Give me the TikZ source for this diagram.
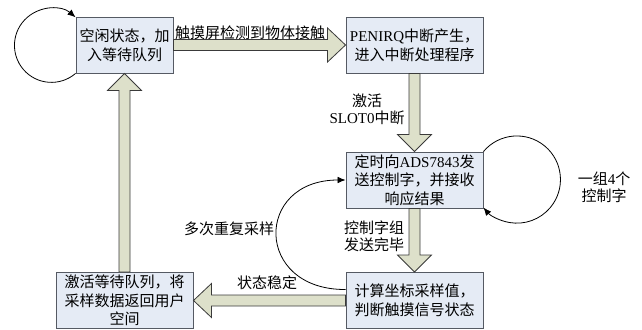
\documentclass[tikz,border=0pt]{standalone}
\usepackage{fontspec}
\setmainfont{Noto Sans CJK SC}
\newfontfamily\lat{Liberation Serif}
\usetikzlibrary{calc,arrows.meta}
\definecolor{boxfill}{HTML}{E5EBF5}
\definecolor{boxline}{HTML}{555A63}
\definecolor{arrfill}{HTML}{DDE0CA}
\definecolor{arrline}{HTML}{3A3A3A}
\tikzset{
  box/.style={draw=boxline, line width=0.7pt, fill=boxfill, align=center, inner sep=0pt,
    minimum height=42pt, font=\fontsize{11.25}{14}\selectfont},
  blockarr/.style={draw=arrline, line width=0.6pt, fill=arrfill, line join=miter},
  lab/.style={align=center, inner sep=0pt, font=\fontsize{11.25}{13}\selectfont},
  loop/.style={line width=0.6pt, -{Latex[length=6pt,width=5pt]}},
}
\begin{document}
\begin{tikzpicture}[x=0.75pt,y=0.75pt]
\useasboundingbox (0,0) rectangle (642,329);
% boxes
\node[box, minimum width=72.75pt] (b1) at (124.5,284) {空闲状态，加\\入等待队列};
\node[box, minimum width=102.75pt] (b2) at (414.5,284) {{\lat PENIRQ}中断产生，\\进入中断处理程序};
\node[box, minimum width=102.75pt] (b3) at (414.5,149) {定时向{\lat ADS7843}发\\送控制字，并接收\\响应结果};
\node[box, minimum width=102.75pt] (b4) at (414.5,28.5) {计算坐标采样值，\\判断触摸信号状态};
\node[box, minimum width=102.75pt] (b5) at (124.5,28.5) {激活等待队列，将\\采样数据返回用户\\空间};
% block arrows
% b1 -> b2 (right)
\draw[blockarr] ($(b1.east)+(0,5.5)$) -- ($(b2.west)+(-18,5.5)$) -- ($(b2.west)+(-18,17)$) -- (b2.west)
  -- ($(b2.west)+(-18,-17)$) -- ($(b2.west)+(-18,-5.5)$) -- ($(b1.east)+(0,-5.5)$) -- cycle;
% b2 -> b3 (down)
\draw[blockarr] ($(b2.south)+(-5.5,0)$) -- ($(b3.north)+(-5.5,17)$) -- ($(b3.north)+(-17,17)$) -- (b3.north)
  -- ($(b3.north)+(17,17)$) -- ($(b3.north)+(5.5,17)$) -- ($(b2.south)+(5.5,0)$) -- cycle;
% b3 -> b4 (down)
\draw[blockarr] ($(b3.south)+(-5.5,0)$) -- ($(b4.north)+(-5.5,17)$) -- ($(b4.north)+(-17,17)$) -- (b4.north)
  -- ($(b4.north)+(17,17)$) -- ($(b4.north)+(5.5,17)$) -- ($(b3.south)+(5.5,0)$) -- cycle;
% b4 -> b5 (left)
\draw[blockarr] ($(b4.west)+(0,5.5)$) -- ($(b5.east)+(18,5.5)$) -- ($(b5.east)+(18,17)$) -- (b5.east)
  -- ($(b5.east)+(18,-17)$) -- ($(b5.east)+(18,-5.5)$) -- ($(b4.west)+(0,-5.5)$) -- cycle;
% b5 -> b1 (up)
\draw[blockarr] ($(b5.north)+(-5.5,0)$) -- ($(b1.south)+(-5.5,-17)$) -- ($(b1.south)+(-17,-17)$) -- (b1.south)
  -- ($(b1.south)+(17,-17)$) -- ($(b1.south)+(5.5,-17)$) -- ($(b5.north)+(5.5,0)$) -- cycle;
% loops
\draw[loop] (b1.south west) arc[start angle=-49.4, end angle=-310.6, radius=37];
\draw[loop] (b3.north east) arc[start angle=140, end angle=-140, radius=43.6];
\draw[loop] ($(b4.west)+(0,11)$) .. controls (254,39) and (254,149) .. (b3.west);
% labels
\node[lab] (l1) at (250,296) {触摸屏检测到物体接触};
\node[lab] (l2) at (367,220) {激活\\{\lat SLOT0}中断};
\node[lab] (l3) at (374,92.5) {控制字组\\发送完毕};
\node[lab] (l4) at (267,46) {状态稳定};
\node[lab] (l5) at (229,100) {多次重复采样};
\node[lab] (l6) at (604,141.5) {一组{\lat 4}个\\控制字};
\end{tikzpicture}
\end{document}
